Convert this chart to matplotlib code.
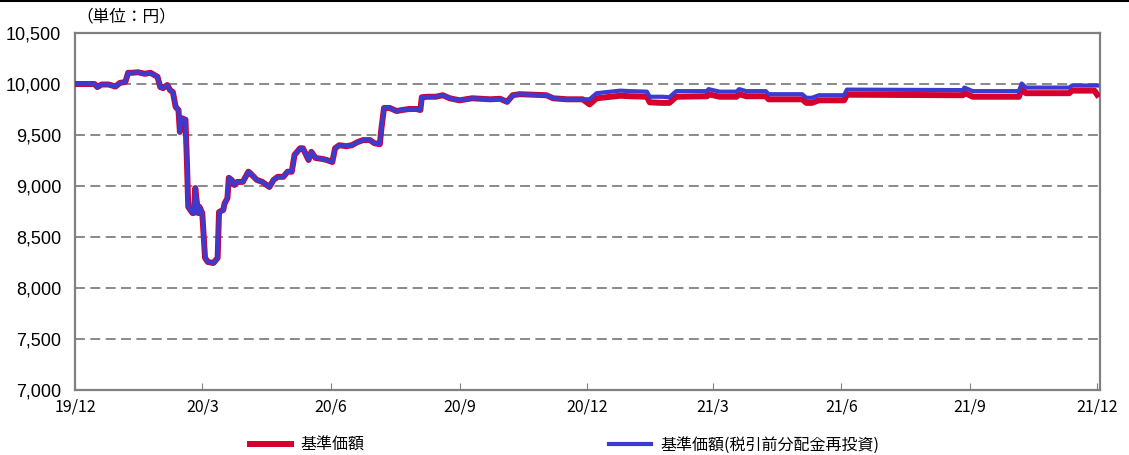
import numpy as np
import pandas as pd
import matplotlib
matplotlib.use("Agg")
import matplotlib.pyplot as plt
from matplotlib.lines import Line2D

plt.rcParams['font.family'] = ['Noto Sans CJK JP', 'DejaVu Sans']

# dates (x positions)
dates = [
    '2019-12-01', '2019-12-15', '2019-12-17', '2019-12-20', '2019-12-25', '2019-12-30',
    '2020-01-02', '2020-01-06', '2020-01-08', '2020-01-11', '2020-01-15', '2020-01-20', '2020-01-24', '2020-01-29', '2020-01-31',
    '2020-02-02', '2020-02-05', '2020-02-07', '2020-02-09', '2020-02-11', '2020-02-13', '2020-02-14', '2020-02-15', '2020-02-18', '2020-02-19', '2020-02-20', '2020-02-23', '2020-02-24', '2020-02-25', '2020-02-27', '2020-02-28',
    '2020-03-01', '2020-03-03', '2020-03-05', '2020-03-09', '2020-03-12', '2020-03-13', '2020-03-16', '2020-03-17', '2020-03-19', '2020-03-20', '2020-03-22', '2020-03-24', '2020-03-26', '2020-03-30',
    '2020-04-03', '2020-04-04', '2020-04-09', '2020-04-13', '2020-04-18', '2020-04-21', '2020-04-24', '2020-04-28',
    '2020-05-01', '2020-05-04', '2020-05-06', '2020-05-10', '2020-05-12', '2020-05-16', '2020-05-18', '2020-05-21', '2020-05-26', '2020-05-29',
    '2020-06-02', '2020-06-04', '2020-06-07', '2020-06-12', '2020-06-16', '2020-06-20', '2020-06-24', '2020-06-29',
    '2020-07-02', '2020-07-06', '2020-07-07', '2020-07-09', '2020-07-13', '2020-07-18', '2020-07-22', '2020-07-27',
    '2020-08-01', '2020-08-04', '2020-08-05', '2020-08-09', '2020-08-15', '2020-08-20', '2020-08-25',
    '2020-09-01', '2020-09-10', '2020-09-23', '2020-09-30',
    '2020-10-05', '2020-10-09', '2020-10-14',
    '2020-11-02', '2020-11-07', '2020-11-17', '2020-11-28',
    '2020-12-03', '2020-12-08', '2020-12-25',
    '2021-01-01', '2021-01-13', '2021-01-15', '2021-01-24', '2021-01-29',
    '2021-02-03', '2021-02-25', '2021-02-26',
    '2021-03-06', '2021-03-18', '2021-03-20', '2021-03-25',
    '2021-04-08', '2021-04-10',
    '2021-05-04', '2021-05-07', '2021-05-11', '2021-05-16',
    '2021-06-03', '2021-06-05',
    '2021-08-27', '2021-08-28',
    '2021-09-03',
    '2021-10-06', '2021-10-08', '2021-10-11',
    '2021-11-11', '2021-11-13', '2021-11-29',
    '2021-12-01',
]

# 基準価額(税引前分配金再投資)
nav_reinvest = [
    10000, 10000, 9970, 9995, 9995, 9975,
    10010, 10020, 10110, 10110, 10115, 10100, 10110, 10070, 9970,
    9960, 9990, 9940, 9920, 9775, 9745, 9530, 9665, 9650, 9255, 8795, 8735, 8735, 8980, 8735, 8795,
    8735, 8295, 8255, 8245, 8295, 8745, 8765, 8830, 8880, 9080, 9060, 9010, 9040, 9040,
    9140, 9130, 9060, 9040, 8990, 9060, 9090, 9090,
    9140, 9140, 9305, 9370, 9370, 9255, 9335, 9275, 9265, 9255,
    9235, 9370, 9400, 9390, 9400, 9430, 9450, 9450,
    9420, 9410, 9550, 9765, 9765, 9735, 9745, 9755,
    9755, 9745, 9870, 9875, 9875, 9890, 9860,
    9840, 9860, 9850, 9855,
    9825, 9890, 9900,
    9890, 9860, 9850, 9850,
    9850, 9910, 9935,
    9930, 9925, 9875, 9875, 9870,
    9930, 9930, 9950,
    9925, 9925, 9950, 9930,
    9930, 9900,
    9900, 9865, 9865, 9890,
    9890, 9945,
    9940, 9965,
    9930,
    9930, 10005, 9965,
    9965, 9985, 9985,
    9985,
]

# 基準価額
nav = [
    10000, 10000, 9970, 9995, 9995, 9975,
    10010, 10020, 10110, 10110, 10115, 10100, 10110, 10070, 9970,
    9960, 9990, 9940, 9920, 9775, 9745, 9530, 9665, 9650, 9255, 8795, 8735, 8735, 8980, 8735, 8795,
    8735, 8295, 8255, 8245, 8295, 8745, 8765, 8830, 8880, 9080, 9060, 9010, 9040, 9040,
    9140, 9130, 9060, 9040, 8990, 9060, 9090, 9090,
    9140, 9140, 9305, 9370, 9370, 9255, 9335, 9275, 9265, 9255,
    9235, 9370, 9400, 9390, 9400, 9430, 9450, 9450,
    9420, 9410, 9550, 9765, 9765, 9735, 9745, 9755,
    9755, 9745, 9870, 9875, 9875, 9890, 9860,
    9840, 9860, 9850, 9855,
    9825, 9890, 9900,
    9890, 9860, 9850, 9850,
    9800, 9860, 9885,
    9880, 9875, 9820, 9815, 9815,
    9875, 9880, 9900,
    9875, 9875, 9900, 9880,
    9880, 9850,
    9850, 9815, 9815, 9840,
    9840, 9895,
    9890, 9915,
    9875,
    9875, 9950, 9910,
    9910, 9935, 9935,
    9895,
]

tick_dates = ['2019-12-01', '2020-03-01', '2020-06-01', '2020-09-01', '2020-12-01',
              '2021-03-01', '2021-06-01', '2021-09-01', '2021-12-01']
tick_labels = ['19/12', '20/3', '20/6', '20/9', '20/12', '21/3', '21/6', '21/9', '21/12']
y_ticks = [7000, 7500, 8000, 8500, 9000, 9500, 10000, 10500]
y_labels = ['7,000', '7,500', '8,000', '8,500', '9,000', '9,500', '10,000', '10,500']

x = pd.to_datetime(dates)

fig = plt.figure(figsize=(11.29, 4.55), dpi=100)
ax = fig.add_axes([75 / 1129, 65 / 455, 1025 / 1129, 357 / 455])

ax.plot(x, nav, color='#D5002B', lw=4.3, label='基準価額', zorder=3)
ax.plot(x, nav_reinvest, color='#3B3BD2', lw=3.0, label='基準価額(税引前分配金再投資)', zorder=4)

ax.set_xlim(pd.Timestamp('2019-12-01'), pd.Timestamp('2021-12-03'))
ax.set_ylim(7000, 10500)

ax.set_yticks(y_ticks)
ax.set_yticklabels(y_labels, family=['Liberation Sans', 'DejaVu Sans'], fontsize=13)
ax.set_xticks(pd.to_datetime(tick_dates))
ax.set_xticklabels(tick_labels, fontsize=11.5)

ax.tick_params(axis='y', length=0, pad=10)
ax.tick_params(axis='x', direction='in', length=5, color='#808080', pad=6)

ax.yaxis.grid(True, color='#808080', lw=1.3, linestyle=(0, (5.5, 3)))
ax.set_axisbelow(True)
for s in ax.spines.values():
    s.set_color('#808080')
    s.set_linewidth(1.6)

fig.text(0.068, 1 - 17 / 455, '（単位：円）', fontsize=12, va='center', ha='left')

fig.legend(loc='center', bbox_to_anchor=(0.500, 0.022), ncol=2, frameon=False,
           fontsize=11.5, handlelength=2.6, handletextpad=0.6, columnspacing=15.3)

fig.add_artist(Line2D([0, 1], [0.998, 0.998], color='black', lw=1.5, transform=fig.transFigure))

fig.savefig('out.png', dpi=100)
